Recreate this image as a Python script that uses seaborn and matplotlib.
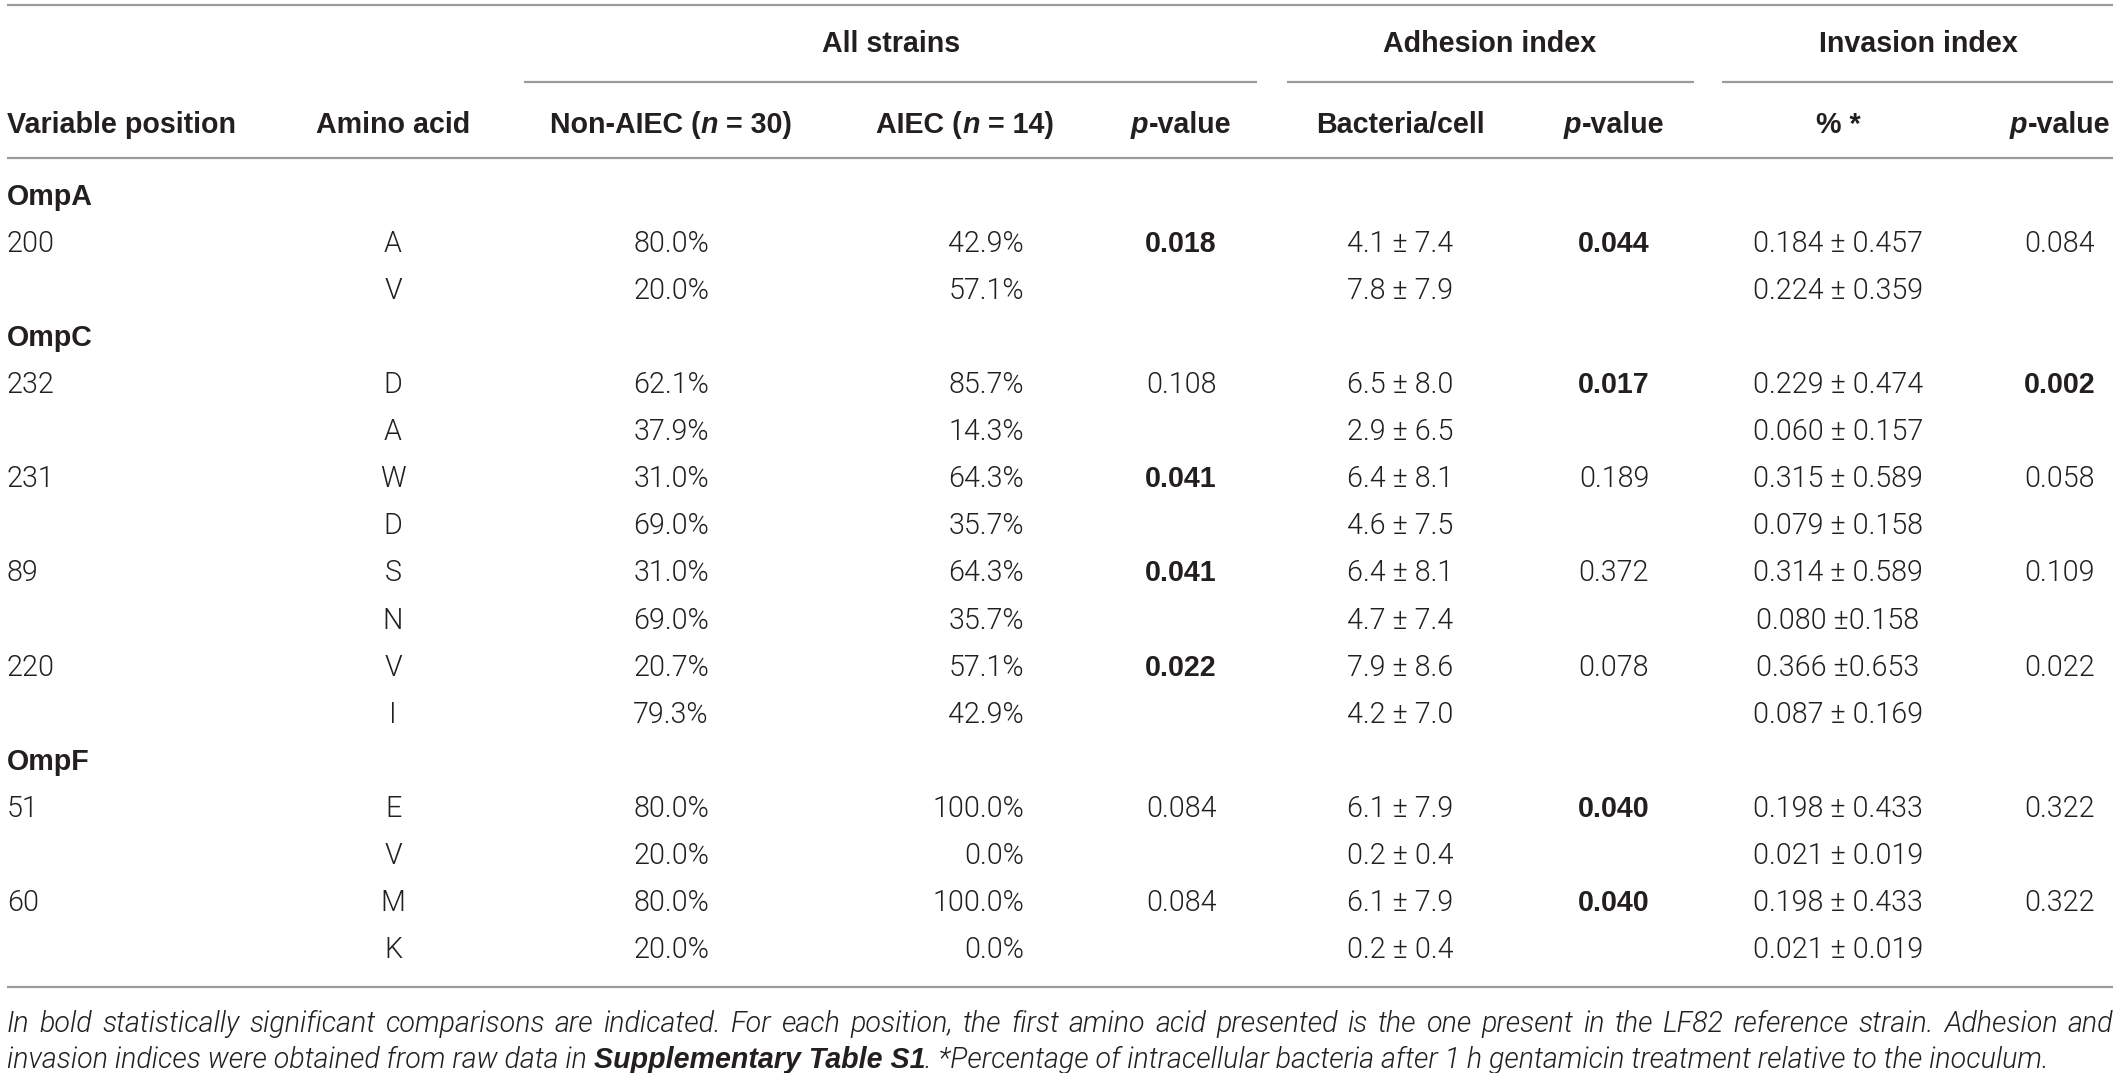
import matplotlib
matplotlib.use("Agg")
import matplotlib.pyplot as plt
from matplotlib import font_manager as fm
import seaborn as sns

# ------------------------------------------------------------------ data
proteins = ["OmpA", "OmpC", "OmpF"]
positions = ["200", "232", "231", "89", "220", "51", "60"]
position_protein = ["OmpA", "OmpC", "OmpC", "OmpC", "OmpC", "OmpF", "OmpF"]
amino_acids = ["A", "V", "D", "A", "W", "D", "S", "N", "V", "I", "E", "V", "M", "K"]
non_aiec = ["80.0%", "20.0%", "62.1%", "37.9%", "31.0%", "69.0%", "31.0%",
            "69.0%", "20.7%", "79.3%", "80.0%", "20.0%", "80.0%", "20.0%"]
aiec = ["42.9%", "57.1%", "85.7%", "14.3%", "64.3%", "35.7%", "64.3%",
        "35.7%", "57.1%", "42.9%", "100.0%", "0.0%", "100.0%", "0.0%"]
all_p = ["0.018", "0.108", "0.041", "0.041", "0.022", "0.084", "0.084"]
all_p_bold = [True, False, True, True, True, False, False]
adhesion = ["4.1 ± 7.4", "7.8 ± 7.9", "6.5 ± 8.0", "2.9 ± 6.5", "6.4 ± 8.1",
            "4.6 ± 7.5", "6.4 ± 8.1", "4.7 ± 7.4", "7.9 ± 8.6", "4.2 ± 7.0",
            "6.1 ± 7.9", "0.2 ± 0.4", "6.1 ± 7.9", "0.2 ± 0.4"]
adhesion_p = ["0.044", "0.017", "0.189", "0.372", "0.078", "0.040", "0.040"]
adhesion_p_bold = [True, True, False, False, False, True, True]
invasion = ["0.184 ± 0.457", "0.224 ± 0.359", "0.229 ± 0.474", "0.060 ± 0.157",
            "0.315 ± 0.589", "0.079 ± 0.158", "0.314 ± 0.589", "0.080 ±0.158",
            "0.366 ±0.653", "0.087 ± 0.169", "0.198 ± 0.433", "0.021 ± 0.019",
            "0.198 ± 0.433", "0.021 ± 0.019"]
invasion_p = ["0.084", "0.002", "0.058", "0.109", "0.022", "0.322", "0.322"]
invasion_p_bold = [False, True, False, False, False, False, False]

group_headers = ["All strains", "Adhesion index", "Invasion index"]
column_headers = [
    [("Variable position", "b")],
    [("Amino acid", "b")],
    [("Non-AIEC (", "b"), ("n", "bi"), (" = 30)", "b")],
    [("AIEC (", "b"), ("n", "bi"), (" = 14)", "b")],
    [("p", "bi"), ("-value", "b")],
    [("Bacteria/cell", "b")],
    [("p", "bi"), ("-value", "b")],
    [("% *", "b")],
    [("p", "bi"), ("-value", "b")],
]
footnote_line1 = ("In bold statistically significant comparisons are indicated. For each "
                  "position, the first amino acid presented is the one present in the LF82 "
                  "reference strain. Adhesion and")
footnote_line2 = [("invasion indices were obtained from raw data in ", "li"),
                  ("Supplementary Table S1", "bi"),
                  (". *Percentage of intracellular bacteria after 1 h gentamicin "
                   "treatment relative to the inoculum.", "li")]

# ------------------------------------------------------------------ layout / style
W, H = 2118, 1073
FS = 20.6
TXT = "#231f20"
RULE = "#9b9b9b"
COL_X = [7, 393, 671, 1024, 1181, 1400, 1614, 1838, 2060]
COL_HA = ["left", "center", "center", "right", "center", "center", "center", "center", "center"]
HEAD_X = [7, 393, 671, 965, 1181, 1400, 1614, 1838, 2060]
GROUP_X = [891, 1490, 1918]
GROUP_SPAN = [(524, 1257), (1287, 1694), (1722, 2113)]
ROW0, ROW_STEP = 205, 47.06

sns.set_theme(style="white")


def light_family():
    for fam in ["Roboto", "Lato", "Open Sans"]:
        try:
            p = fm.findfont(fm.FontProperties(family=fam, weight=300), fallback_to_default=False)
            if "light" in p.lower():
                return fam, 300
        except Exception:
            pass
    return "Liberation Sans", "normal"


LFAM, LW = light_family()
STYLES = {
    "l": dict(family=LFAM, fontweight=LW, fontstyle="normal"),
    "li": dict(family=LFAM, fontweight=LW, fontstyle="italic"),
    "b": dict(family="Liberation Sans", fontweight="bold", fontstyle="normal"),
    "bi": dict(family="Liberation Sans", fontweight="bold", fontstyle="italic"),
}

fig = plt.figure(figsize=(W / 100, H / 100), dpi=100)
ax = fig.add_axes([0, 0, 1, 1])
ax.set_xlim(0, W)
ax.set_ylim(H, 0)
ax.axis("off")
renderer = fig.canvas.get_renderer()


def twidth(s, st):
    kw = dict(STYLES[st], fontsize=FS)
    t1 = ax.text(0, 0, "|" + s + "|", **kw)
    t2 = ax.text(0, 0, "||", **kw)
    w = t1.get_window_extent(renderer).width - t2.get_window_extent(renderer).width
    t1.remove()
    t2.remove()
    return w


def draw(x, y, segs, ha="left"):
    parts = []
    total = 0.0
    for s, st in segs:
        lead = len(s) - len(s.lstrip(" "))
        trail = len(s) - len(s.rstrip(" "))
        sp = twidth(" ", st)
        core = s.strip(" ")
        w = twidth(core, st)
        parts.append((core, st, total + lead * sp))
        total += lead * sp + w + trail * sp
    x0 = {"left": x, "center": x - total / 2, "right": x - total}[ha]
    for core, st, off in parts:
        ax.text(x0 + off, y, core, ha="left", va="baseline", color=TXT,
                fontsize=FS, **STYLES[st])


def draw_justified(x_left, x_right, y, text, st):
    words = text.split(" ")
    ws = [twidth(w, st) for w in words]
    gap = (x_right - x_left - sum(ws)) / (len(words) - 1)
    x = x_left
    for w, wd in zip(words, ws):
        ax.text(x, y, w, ha="left", va="baseline", color=TXT, fontsize=FS, **STYLES[st])
        x += wd + gap


# rules
ax.hlines([5, 158, 987], 7, 2113, color=RULE, lw=1.6)
for (a, b) in GROUP_SPAN:
    ax.hlines(82, a, b, color=RULE, lw=1.6)

# headers
for gx, g in zip(GROUP_X, group_headers):
    draw(gx, 52, [(g, "b")], "center")
for hx, ha, segs in zip(HEAD_X, ["left"] + ["center"] * 8, column_headers):
    draw(hx, 133, segs, ha)

# body
k = 0
aa_i = 0
for prot in proteins:
    y = ROW0 + ROW_STEP * k
    draw(COL_X[0], y, [(prot, "b")], "left")
    k += 1
    for pi, pos in enumerate(positions):
        if position_protein[pi] != prot:
            continue
        for j in range(2):
            y = ROW0 + ROW_STEP * k
            i = 2 * pi + j
            if j == 0:
                draw(COL_X[0], y, [(pos, "l")], COL_HA[0])
                draw(COL_X[4], y, [(all_p[pi], "b" if all_p_bold[pi] else "l")], COL_HA[4])
                draw(COL_X[6], y, [(adhesion_p[pi], "b" if adhesion_p_bold[pi] else "l")], COL_HA[6])
                draw(COL_X[8], y, [(invasion_p[pi], "b" if invasion_p_bold[pi] else "l")], COL_HA[8])
            draw(COL_X[1], y, [(amino_acids[i], "l")], COL_HA[1])
            draw(COL_X[2], y, [(non_aiec[i], "l")], COL_HA[2])
            draw(COL_X[3], y, [(aiec[i], "l")], COL_HA[3])
            draw(COL_X[5], y, [(adhesion[i], "l")], COL_HA[5])
            draw(COL_X[7], y, [(invasion[i], "l")], COL_HA[7])
            k += 1

# footnote
draw_justified(7, 2113, 1032, footnote_line1, "li")
draw(7, 1068, footnote_line2, "left")

fig.savefig("out.png", dpi=100)
